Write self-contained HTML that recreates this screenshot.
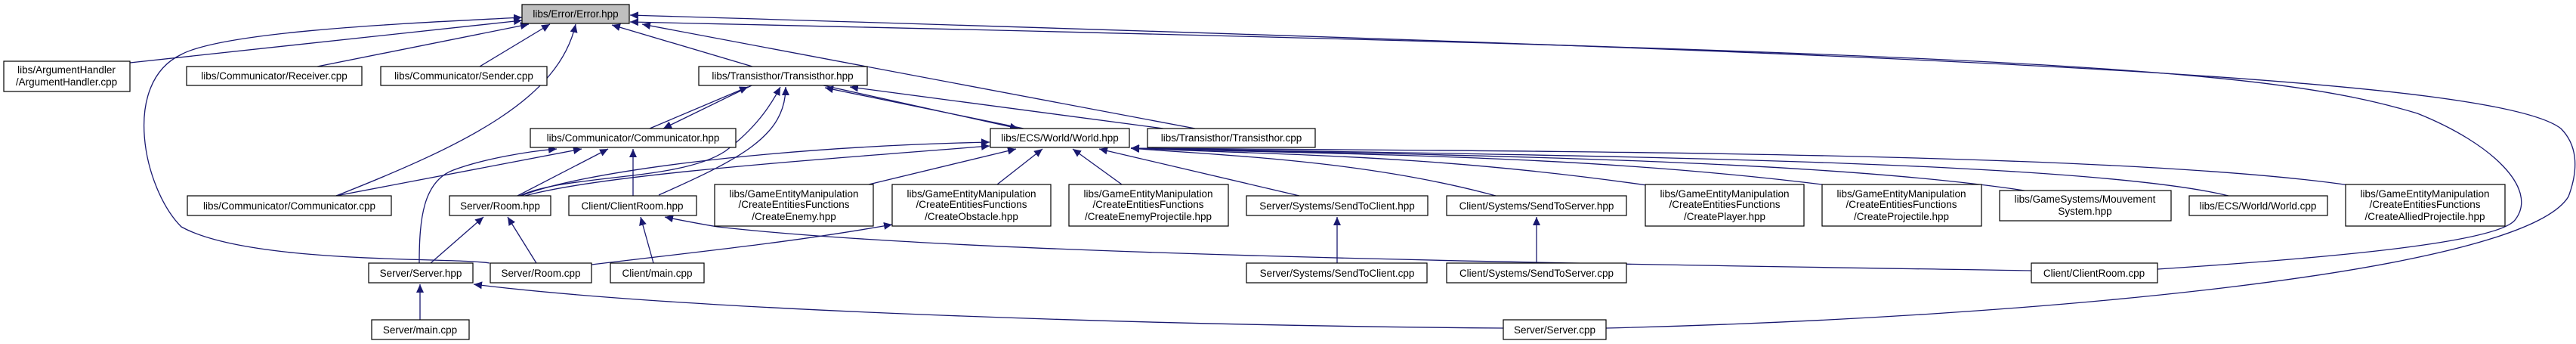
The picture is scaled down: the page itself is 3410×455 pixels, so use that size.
<!DOCTYPE html>
<html><head><meta charset="utf-8"><style>
html,body{margin:0;padding:0;background:#fff;}
svg{display:block}
text{font-family:"Liberation Sans","DejaVu Sans",sans-serif;font-size:13.5px;fill:#000;text-anchor:middle}
.n{fill:#fff;stroke:#000;stroke-width:1.2}
.e{fill:none;stroke:#191970;stroke-width:1.3}
</style></head><body>
<svg width="3410" height="455" viewBox="0 0 3410 455" xmlns="http://www.w3.org/2000/svg">
<defs>
<marker id="a" markerUnits="userSpaceOnUse" markerWidth="12" markerHeight="12" refX="11" refY="5" orient="auto">
<polygon points="0,0 11,5 0,10" fill="#191970"/></marker>
</defs>
<g class="e" marker-end="url(#a)">
<path d="M172,83 L691,27"/>
<path d="M420,88 L700,32"/>
<path d="M635,88 L728,32"/>
<path d="M445,259 C620,190 740,130 762,32"/>
<path d="M648,348 C600,340 330,350 240,300 C190,250 160,110 240,72 C300,40 560,30 691,23"/>
<path d="M996,88 L810,33"/>
<path d="M1582,170 L850,32"/>
<path d="M2126,434 C2700,420 3340,360 3400,260 C3415,220 3410,190 3390,170 C3300,100 2500,70 834,20"/>
<path d="M2856,356 C3100,340 3310,320 3330,290 C3360,250 3300,190 3200,150 C3000,90 2700,70 834,29"/>
<path d="M860,170 L990,115"/>
<path d="M995,113 L878,170"/>
<path d="M688,259 C750,230 900,240 960,200 C1000,170 1020,140 1033,115"/>
<path d="M872,258 C980,210 1040,180 1040,115"/>
<path d="M1090,113 L1348,170"/>
<path d="M1355,170 L1092,116"/>
<path d="M1540,170 L1125,115"/>
<path d="M555,348 C555,290 560,240 600,225 C640,210 700,200 737,197"/>
<path d="M445,259 L770,197"/>
<path d="M685,259 L805,197"/>
<path d="M838,259 L838,197"/>
<path d="M690,259 C760,230 1000,195 1310,188"/>
<path d="M695,259 C800,230 1100,210 1310,193"/>
<path d="M1150,244 L1345,197"/>
<path d="M1320,244 L1380,197"/>
<path d="M1485,244 L1420,197"/>
<path d="M1720,259 L1455,197"/>
<path d="M1980,259 C1800,210 1600,205 1497,196"/>
<path d="M2180,245 C1900,205 1700,205 1497,196"/>
<path d="M2420,245 C2100,205 1800,205 1497,196"/>
<path d="M2680,252 C2400,210 1900,205 1497,196"/>
<path d="M2950,259 C2750,210 2000,205 1497,196"/>
<path d="M3110,245 C2800,200 2000,200 1497,196"/>
<path d="M570,348 L640,287"/>
<path d="M710,348 L672,287"/>
<path d="M865,348 L848,287"/>
<path d="M2689,358 C2200,350 1300,340 950,300 C920,295 895,290 880,287"/>
<path d="M783,350 C950,330 1050,320 1181,297"/>
<path d="M556,423 L556,376"/>
<path d="M1990,434 C1500,430 900,410 627,376"/>
<path d="M1770,348 L1770,287"/>
<path d="M2034,348 L2034,287"/>
</g>
<rect x="691" y="6" width="142" height="25" fill="#bfbfbf" stroke="#000" stroke-width="1.2"/>
<text x="762" y="23">libs/Error/Error.hpp</text>
<rect class="n" x="5" y="81" width="167" height="40"/>
<text x="88" y="97">libs/ArgumentHandler</text><text x="88" y="113">/ArgumentHandler.cpp</text>
<rect class="n" x="247" y="88" width="232" height="25"/><text x="363" y="105">libs/Communicator/Receiver.cpp</text>
<rect class="n" x="504" y="88" width="220" height="25"/><text x="614" y="105">libs/Communicator/Sender.cpp</text>
<rect class="n" x="925" y="88" width="223" height="25"/><text x="1036" y="105">libs/Transisthor/Transisthor.hpp</text>
<rect class="n" x="702" y="170" width="272" height="25"/><text x="838" y="187">libs/Communicator/Communicator.hpp</text>
<rect class="n" x="1311" y="170" width="184" height="25"/><text x="1403" y="187">libs/ECS/World/World.hpp</text>
<rect class="n" x="1519" y="170" width="222" height="25"/><text x="1630" y="187">libs/Transisthor/Transisthor.cpp</text>
<rect class="n" x="248" y="259" width="270" height="26"/><text x="383" y="277">libs/Communicator/Communicator.cpp</text>
<rect class="n" x="595" y="259" width="134" height="26"/><text x="662" y="277">Server/Room.hpp</text>
<rect class="n" x="753" y="259" width="169" height="26"/><text x="837" y="277">Client/ClientRoom.hpp</text>
<rect class="n" x="946" y="244" width="210" height="55"/>
<text x="1051" y="261">libs/GameEntityManipulation</text><text x="1051" y="275">/CreateEntitiesFunctions</text><text x="1051" y="291">/CreateEnemy.hpp</text>
<rect class="n" x="1181" y="244" width="210" height="55"/>
<text x="1286" y="261">libs/GameEntityManipulation</text><text x="1286" y="275">/CreateEntitiesFunctions</text><text x="1286" y="291">/CreateObstacle.hpp</text>
<rect class="n" x="1415" y="244" width="211" height="55"/>
<text x="1520" y="261">libs/GameEntityManipulation</text><text x="1520" y="275">/CreateEntitiesFunctions</text><text x="1520" y="291">/CreateEnemyProjectile.hpp</text>
<rect class="n" x="1650" y="259" width="240" height="26"/><text x="1770" y="277">Server/Systems/SendToClient.hpp</text>
<rect class="n" x="1915" y="259" width="238" height="26"/><text x="2034" y="277">Client/Systems/SendToServer.hpp</text>
<rect class="n" x="2178" y="244" width="210" height="55"/>
<text x="2283" y="261">libs/GameEntityManipulation</text><text x="2283" y="275">/CreateEntitiesFunctions</text><text x="2283" y="291">/CreatePlayer.hpp</text>
<rect class="n" x="2412" y="244" width="211" height="55"/>
<text x="2517" y="261">libs/GameEntityManipulation</text><text x="2517" y="275">/CreateEntitiesFunctions</text><text x="2517" y="291">/CreateProjectile.hpp</text>
<rect class="n" x="2647" y="252" width="227" height="40"/>
<text x="2760" y="268">libs/GameSystems/Mouvement</text><text x="2760" y="284">System.hpp</text>
<rect class="n" x="2898" y="259" width="183" height="26"/><text x="2989" y="277">libs/ECS/World/World.cpp</text>
<rect class="n" x="3105" y="244" width="211" height="55"/>
<text x="3210" y="261">libs/GameEntityManipulation</text><text x="3210" y="275">/CreateEntitiesFunctions</text><text x="3210" y="291">/CreateAlliedProjectile.hpp</text>
<rect class="n" x="488" y="348" width="138" height="26"/><text x="557" y="366">Server/Server.hpp</text>
<rect class="n" x="649" y="348" width="134" height="26"/><text x="716" y="366">Server/Room.cpp</text>
<rect class="n" x="808" y="348" width="124" height="26"/><text x="870" y="366">Client/main.cpp</text>
<rect class="n" x="1650" y="348" width="239" height="26"/><text x="1770" y="366">Server/Systems/SendToClient.cpp</text>
<rect class="n" x="1915" y="348" width="238" height="26"/><text x="2034" y="366">Client/Systems/SendToServer.cpp</text>
<rect class="n" x="2689" y="348" width="167" height="26"/><text x="2772" y="366">Client/ClientRoom.cpp</text>
<rect class="n" x="492" y="423" width="129" height="26"/><text x="556" y="441">Server/main.cpp</text>
<rect class="n" x="1990" y="423" width="136" height="26"/><text x="2058" y="441">Server/Server.cpp</text>
</svg>
</body></html>
